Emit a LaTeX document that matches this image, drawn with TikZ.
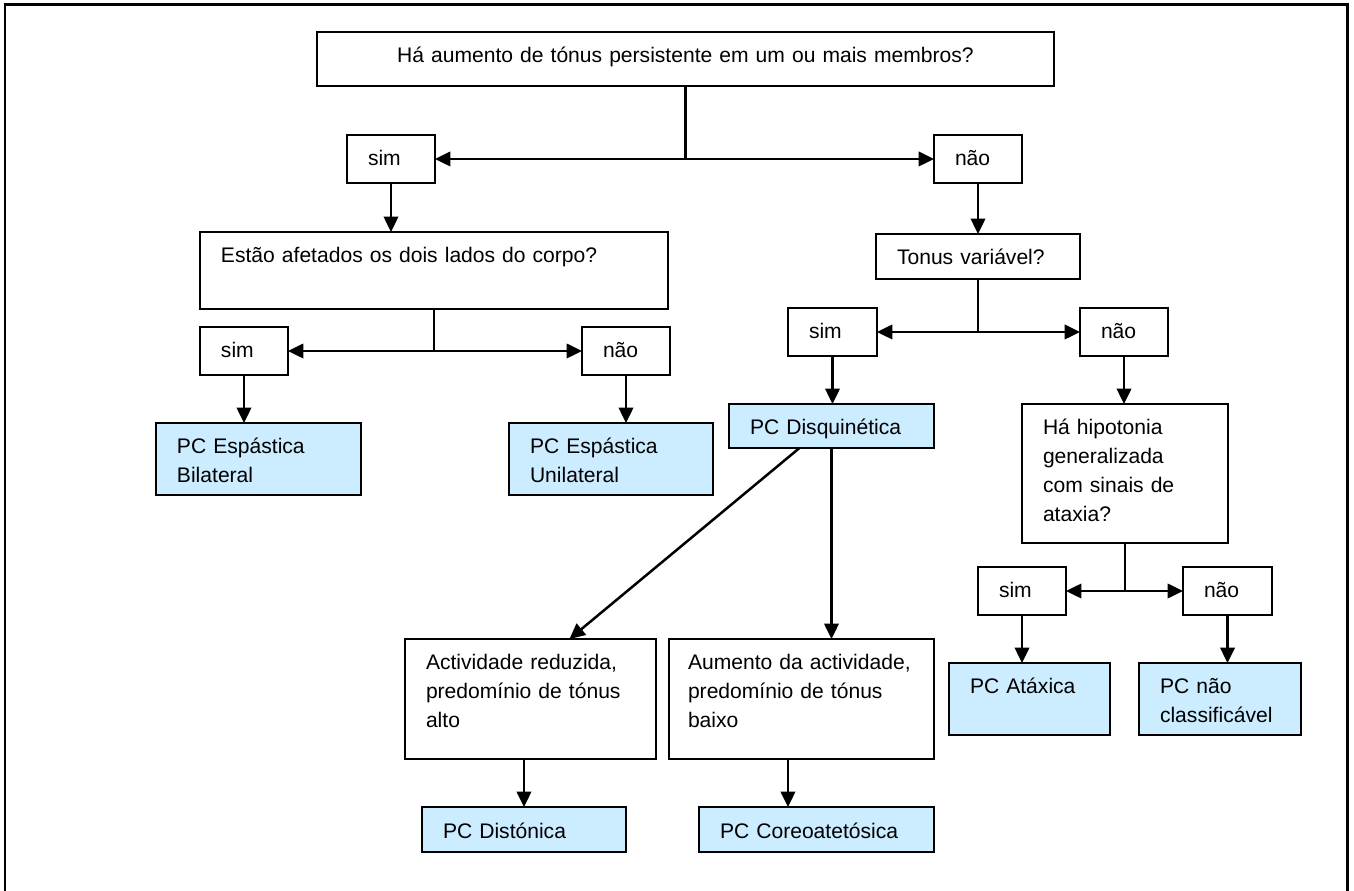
\documentclass[tikz,border=0pt]{standalone}
\usepackage{fontspec}
\setmainfont{Liberation Sans}
\usepackage{xcolor}
\usetikzlibrary{arrows.meta}
\definecolor{azulpc}{RGB}{204,236,255}

\begin{document}
\begin{tikzpicture}[x=0.02cm, y=-0.02cm,
    caixa/.style={draw, line width=0.05cm, anchor=north west, outer sep=0pt, inner xsep=0.42cm, inner ysep=0pt, align=left, text height=0.62cm, font=\fontsize{12}{16.4}\selectfont},
    pc/.style={caixa, fill=azulpc},
    seta/.style={line width=0.05cm, -{Triangle[length=0.31cm, width=0.29cm]}},
    linha/.style={line width=0.05cm}]
    \useasboundingbox (0,0) rectangle (1354,891);
    \draw[line width=0.06cm] (5,891) -- (5,5) -- (1347,5) -- (1347,891); % moldura

    % perguntas
    \node[caixa, align=center, text width=13.90cm, text depth=0.46cm] (q1) at (317,32) {Há aumento de tónus persistente em um ou mais membros?};
    \node[caixa, text width=8.52cm, text depth=0.92cm] (q2) at (200,232) {Estão afetados os dois lados do corpo?};
    \node[caixa, text width=3.24cm, text depth=0.28cm] (q3) at (876,234) {Tonus variável?};
    \node[caixa, text width=3.28cm, text depth=2.16cm] (hipo) at (1022,404) {Há hipotonia\\generalizada\\com sinais de\\ataxia?};
    \node[caixa, text width=4.18cm, text depth=1.78cm] (redu) at (405,639) {Actividade reduzida,\\predomínio de tónus\\alto};
    \node[caixa, inner xsep=0.38cm, text width=4.54cm, text depth=1.78cm] (aum) at (669,639) {Aumento da actividade,\\predomínio de tónus\\baixo};

    % sim / não
    \node[caixa, text width=0.92cm, text depth=0.34cm] (sim1) at (347,135) {sim};
    \node[caixa, text width=0.92cm, text depth=0.34cm] (nao1) at (934,135) {não};
    \node[caixa, text width=0.92cm, text depth=0.34cm] (sim2) at (200,327) {sim};
    \node[caixa, text width=0.92cm, text depth=0.34cm] (nao2) at (582,327) {não};
    \node[caixa, text width=0.94cm, text depth=0.34cm] (sim3) at (788,308) {sim};
    \node[caixa, text width=0.92cm, text depth=0.34cm] (nao3) at (1080,308) {não};
    \node[caixa, text width=0.92cm, text depth=0.34cm] (sim4) at (978,567) {sim};
    \node[caixa, text width=0.94cm, text depth=0.34cm] (nao4) at (1183,567) {não};

    % resultados
    \node[pc, text width=3.26cm, text depth=0.82cm] (bil) at (156,423) {PC Espástica\\Bilateral};
    \node[pc, text width=3.24cm, text depth=0.82cm] (uni) at (509,423) {PC Espástica\\Unilateral};
    \node[pc, text width=3.26cm, text depth=0.26cm] (disq) at (729,404) {PC Disquinética};
    \node[pc, text width=2.38cm, text depth=0.82cm] (atax) at (949,663) {PC Atáxica};
    \node[pc, text width=2.40cm, text depth=0.82cm] (nclass) at (1139,663) {PC não\\classificável};
    \node[pc, text width=3.24cm, text depth=0.28cm] (dist) at (422,807) {PC Distónica};
    \node[pc, text width=3.86cm, text depth=0.28cm] (core) at (699,807) {PC Coreoatetósica};

    % ligacoes
    \coordinate (j1) at (q1.south |- sim1.east);
    \draw[linha] (q1.south) -- (j1);
    \draw[seta] (j1) -- (sim1.east);
    \draw[seta] (j1) -- (nao1.west);
    \draw[seta] (sim1.south) -- (sim1.south |- q2.north);
    \draw[seta] (nao1.south) -- (nao1.south |- q3.north);

    \coordinate (j2) at (q2.south |- sim2.east);
    \draw[linha] (q2.south) -- (j2);
    \draw[seta] (j2) -- (sim2.east);
    \draw[seta] (j2) -- (nao2.west);
    \draw[seta] (sim2.south) -- (sim2.south |- bil.north);
    \draw[seta] (nao2.south) -- (nao2.south |- uni.north);

    \coordinate (j3) at (q3.south |- sim3.east);
    \draw[linha] (q3.south) -- (j3);
    \draw[seta] (j3) -- (sim3.east);
    \draw[seta] (j3) -- (nao3.west);
    \draw[seta] (sim3.south) -- (sim3.south |- disq.north);
    \draw[seta] (nao3.south) -- (nao3.south |- hipo.north);

    \draw[seta] ([xshift=-0.64cm]disq.south) -- ([xshift=0.78cm]redu.north);
    \draw[seta] (disq.south) -- (disq.south |- aum.north);

    \coordinate (j4) at (hipo.south |- sim4.east);
    \draw[linha] (hipo.south) -- (j4);
    \draw[seta] (j4) -- (sim4.east);
    \draw[seta] (j4) -- (nao4.west);
    \draw[seta] (sim4.south) -- (sim4.south |- atax.north);
    \draw[seta] (nao4.south) -- (nao4.south |- nclass.north);

    \draw[seta] (redu.south -| dist.north) -- (dist.north);
    \coordinate (c1) at ([xshift=-0.27cm]aum.south);
    \draw[seta] (c1) -- (c1 |- core.north);
\end{tikzpicture}
\end{document}
